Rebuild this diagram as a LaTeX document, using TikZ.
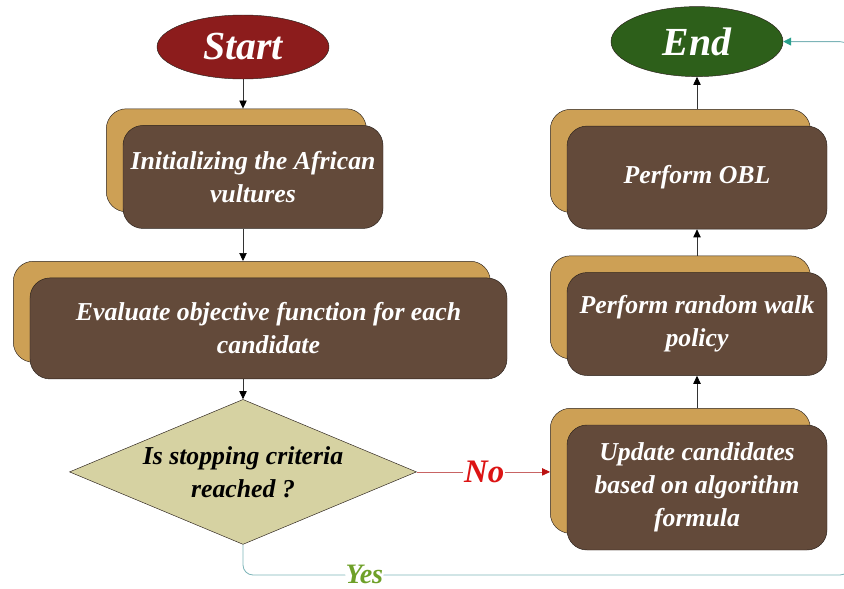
\documentclass[tikz,border=0pt]{standalone}
\usepackage{fontspec}
\setmainfont{Liberation Serif}
\usepackage{xcolor}
\usepackage{tikz}
\usetikzlibrary{arrows.meta,positioning,shapes.geometric,shadows}
\definecolor{startred}{HTML}{8C1C1C}
\definecolor{endgreen}{HTML}{2D5F1A}
\definecolor{woodbrown}{HTML}{634A3A}
\definecolor{woodtan}{HTML}{CDA055}
\definecolor{sandbg}{HTML}{D6D2A2}
\definecolor{edgeink}{HTML}{2B221C}
\definecolor{nored}{HTML}{DC1414}
\definecolor{noline}{HTML}{C86464}
\definecolor{yesgreen}{HTML}{6EA028}
\definecolor{yesline}{HTML}{7DB4B8}
\definecolor{yestip}{HTML}{28A08C}
\begin{document}
\begin{tikzpicture}[x=0.3mm,y=-0.3mm,
  term/.style={ellipse,draw=edgeink,text=white,inner sep=0pt,minimum width=51.6mm,
    font=\bfseries\itshape\fontsize{34}{40}\selectfont},
  stepbox/.style={draw=edgeink,fill=woodbrown,rounded corners=6mm,align=center,text=white,
    font=\bfseries\itshape\fontsize{22}{28}\selectfont,minimum width=78mm,minimum height=30.9mm,inner sep=2pt,
    copy shadow={shadow xshift=-5mm,shadow yshift=5mm,fill=woodtan,draw=edgeink}},
  ask/.style={diamond,draw=edgeink,fill=sandbg,aspect=2.4,inner sep=0pt,align=center,
    minimum width=104.1mm,minimum height=43.5mm,font=\bfseries\itshape\fontsize{22}{28}\selectfont},
  arr/.style={-{Triangle[length=2.4mm,width=2.2mm,color=black]},draw=black!80,line width=0.6pt},
  noarr/.style={-{Triangle[length=2.4mm,width=2.2mm,color=nored!85!black]},draw=noline,line width=0.6pt},
  yesarr/.style={-{Triangle[length=2.4mm,width=2.4mm,color=yestip]},draw=yesline,line width=0.7pt,rounded corners=3mm},
  nolabel/.style={fill=white,text=nored,inner sep=1pt,font=\bfseries\itshape\fontsize{28}{30}\selectfont},
  yeslabel/.style={fill=white,text=yesgreen,inner sep=0.5pt,text depth=0pt,yshift=1pt,
    font=\bfseries\itshape\fontsize{24}{26}\selectfont}]
\useasboundingbox (0,0) rectangle (844,588);
% left column
\node[term,fill=startred,minimum height=19.2mm] (start) at (243,47) {Start};
\node[stepbox,below=13.8mm of start,xshift=3mm] (init) {Initializing the African\\vultures};
\node[stepbox,below=14.7mm of init,xshift=4.65mm,minimum width=143.1mm,minimum height=30.3mm] (eval)
  {Evaluate objective function for each\\candidate};
\node[ask,below=6mm of eval,xshift=-7.65mm] (decision) {Is stopping criteria\\reached ?};
% right column
\node[stepbox,minimum height=37.5mm] (update) at (697,487.5) {Update candidates\\based on algorithm\\formula};
\node[stepbox,above=14.7mm of update] (walk) {Perform random walk\\policy};
\node[stepbox,above=12.9mm of walk] (obl) {Perform OBL};
\node[term,fill=endgreen,minimum height=21mm,above=14.7mm of obl] (end) {End};
\coordinate (loop) at (850,575);
\draw[arr,shorten >=5mm] (start) -- (start |- init.north);
\draw[arr,shorten >=5mm] (init.south -| start) -- (start |- eval.north);
\draw[arr] (eval.south -| decision) -- (decision);
\draw[noarr,shorten >=5mm] (decision.east) -- node[pos=0.45,nolabel] {No} (decision.east -| update.west);
\draw[arr,shorten <=5mm] (update.north) -- (walk.south);
\draw[arr,shorten <=5mm] (walk.north) -- (obl.south);
\draw[arr,shorten <=5mm] (obl.north) -- (end.south);
\draw[yesarr] (decision.south) |- node[pos=0.6,yeslabel] {Yes} (loop) |- (end.east);
\end{tikzpicture}
\end{document}
